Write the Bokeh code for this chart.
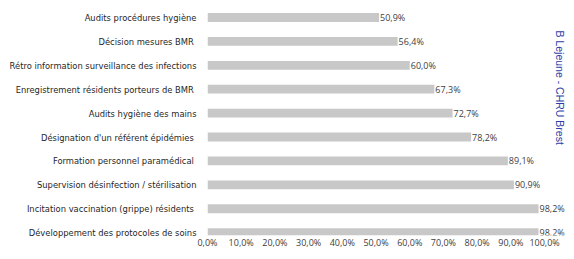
import math
from bokeh.plotting import figure
from bokeh.models import ColumnDataSource, Range1d, FixedTicker, Label
from bokeh.core.properties import value
from bokeh.embed import file_html
from bokeh.resources import INLINE

categories = [
    "Audits procédures hygiène",
    "Décision  mesures BMR",
    "Rétro information surveillance des infections",
    "Enregistrement  résidents porteurs de BMR",
    "Audits hygiène des mains",
    "Désignation d'un référent  épidémies",
    "Formation  personnel paramédical",
    "Supervision désinfection / stérilisation",
    "Incitation vaccination (grippe)  résidents",
    "Développement des protocoles de soins",
]
values = [50.9, 56.4, 60.0, 67.3, 72.7, 78.2, 89.1, 90.9, 98.2, 98.2]
x_ticks = [0, 10, 20, 30, 40, 50, 60, 70, 80, 90, 100]
credit = "B Lejeune - CHRU Brest"

idx = list(range(len(categories)))
labels = [f"{v:.1f}%".replace(".", ",") for v in values]
src = ColumnDataSource(dict(y=idx, v=values, lab=labels))

p = figure(width=566, height=251, output_backend="svg", toolbar_location=None,
           x_range=Range1d(0, 106.5), y_range=Range1d(9.121, -0.711))
p.min_border_left = 207
p.min_border_right = 0
p.min_border_top = 0
p.min_border_bottom = 16
p.outline_line_color = None
p.background_fill_color = "white"
p.border_fill_color = "white"
p.xgrid.visible = False
p.ygrid.visible = False

p.hbar(y="y", left=0, right="v", height=0.37, source=src,
       fill_color="#c8c8c8", line_color=None)
p.text(x="v", y="y", text="lab", source=src, x_offset=1,
       text_align="left", text_baseline="middle",
       text_font=value("Open Sans"), text_font_size="9px", text_color="#404040")

xa = p.xaxis[0]
xa.ticker = FixedTicker(ticks=x_ticks)
xa.major_label_overrides = {t: f"{t:.1f}%".replace(".", ",") for t in x_ticks}
xa.axis_line_color = None
xa.major_tick_line_color = None
xa.minor_tick_line_color = None
xa.major_tick_out = 0
xa.major_tick_in = 0
xa.major_label_standoff = 0
xa.major_label_text_font = "Open Sans"
xa.major_label_text_font_size = "9px"
xa.major_label_text_color = "#404040"

ya = p.yaxis[0]
ya.ticker = FixedTicker(ticks=idx)
ya.major_label_overrides = {i: c for i, c in zip(idx, categories)}
ya.axis_line_color = None
ya.major_tick_line_color = None
ya.minor_tick_line_color = None
ya.major_tick_out = 0
ya.major_tick_in = 0
ya.major_label_standoff = 11
ya.major_label_text_font = "'DejaVu Sans Condensed', sans-serif"
ya.major_label_text_font_size = "9.3px"
ya.major_label_text_color = "#262626"

p.add_layout(Label(x=104.6, y=0.544, text=credit, angle=-math.pi / 2,
                   text_align="left", text_baseline="alphabetic",
                   text_font="Liberation Sans", text_font_size="10.5px",
                   text_color="#2b3ea8"))

open("out.html", "w").write(file_html(p, INLINE))
